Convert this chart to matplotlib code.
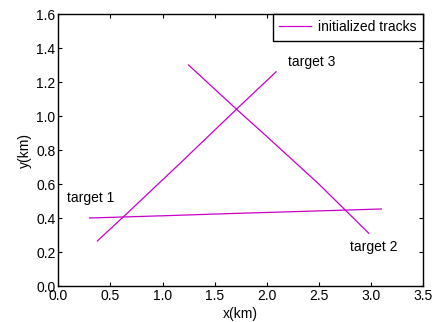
import matplotlib
matplotlib.use("Agg")
import matplotlib.pyplot as plt
from matplotlib.ticker import FormatStrFormatter

# initialized tracks (km)
t1_x = [0.30, 1.00, 1.70, 2.40, 3.10]
t1_y = [0.400, 0.413, 0.427, 0.440, 0.453]
t2_x = [1.25, 1.71, 2.00, 2.50, 2.98]
t2_y = [1.30, 1.04, 0.88, 0.60, 0.31]
t3_x = [0.375, 0.63, 1.20, 1.71, 2.09]
t3_y = [0.265, 0.41, 0.74, 1.04, 1.26]

labels = ["target 1", "target 2", "target 3"]
label_pos = [(0.08, 0.515), (2.80, 0.23), (2.20, 1.32)]

xticks = [0.0, 0.5, 1.0, 1.5, 2.0, 2.5, 3.0, 3.5]
yticks = [0.0, 0.2, 0.4, 0.6, 0.8, 1.0, 1.2, 1.4, 1.6]

plt.rcParams["font.family"] = ["Liberation Sans", "DejaVu Sans"]
plt.rcParams["font.size"] = 10

fig = plt.figure(figsize=(4.36, 3.22), dpi=100)
ax = fig.add_axes([58.3 / 436, 36 / 322, 364.7 / 436, 272 / 322])

color = "#c800c8"
ax.plot(t1_x, t1_y, color=color, lw=0.9, label="initialized tracks")
ax.plot(t2_x, t2_y, color=color, lw=0.9)
ax.plot(t3_x, t3_y, color=color, lw=0.9)

for txt, (x, y) in zip(labels, label_pos):
    ax.text(x, y, txt, ha="left", va="center", fontsize=10)

ax.set_xlim(0, 3.5)
ax.set_ylim(0, 1.6)
ax.set_xticks(xticks)
ax.set_yticks(yticks)
ax.xaxis.set_major_formatter(FormatStrFormatter("%.1f"))
ax.yaxis.set_major_formatter(FormatStrFormatter("%.1f"))
ax.tick_params(direction="in", top=True, right=True, length=3, width=0.8, pad=2, labelsize=10)
for s in ax.spines.values():
    s.set_linewidth(1.0)

ax.set_xlabel("x(km)", labelpad=3)
ax.set_ylabel("y(km)", labelpad=3)

leg = ax.legend(loc="upper right", fancybox=False, framealpha=1, edgecolor="black",
                borderaxespad=0, handlelength=2.3, handletextpad=0.5,
                borderpad=0.45, fontsize=10)
leg.get_frame().set_linewidth(1.0)

fig.savefig("out.png", dpi=100)
